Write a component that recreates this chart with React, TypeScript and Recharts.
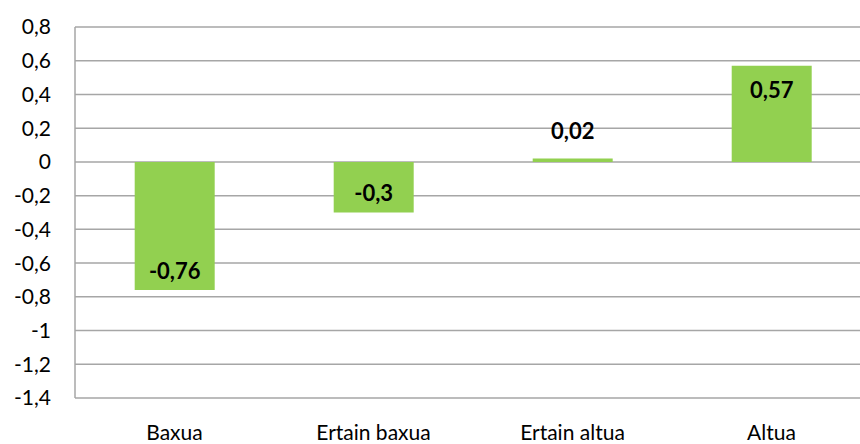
import { BarChart, Bar, XAxis, YAxis, CartesianGrid, LabelList } from 'recharts'

const CATEGORIES = ['Baxua', 'Ertain baxua', 'Ertain altua', 'Altua']
const VALUES = [-0.76, -0.3, 0.02, 0.57]
const Y_TICKS = [-1.4, -1.2, -1, -0.8, -0.6, -0.4, -0.2, 0, 0.2, 0.4, 0.6, 0.8]

const data = CATEGORIES.map((name, i) => ({ name, value: VALUES[i] }))

const fmt = (v: number) => String(Math.round(v * 100) / 100).replace('.', ',')

const FONT = 'Lato, "Open Sans", sans-serif'

// Excel-style "inside end" labels; tiny bars get the label above
const renderLabel = (props: any) => {
  const { x, y, width, height, value } = props
  const cx = x + width / 2
  const h = Math.abs(height)
  let ty: number
  if (h < 30) {
    ty = Math.min(y, y + height) - 25
  } else if (value >= 0) {
    ty = Math.min(y, y + height) + 27
  } else {
    ty = Math.max(y, y + height) - 17
  }
  return (
    <text x={cx} y={ty} textAnchor="middle" dominantBaseline="middle" fontSize={22} fontWeight={700} fontFamily={FONT} fill="#000">
      {fmt(value)}
    </text>
  )
}

export default function App() {
  return (
    <div style={{ position: 'fixed', left: 0, top: 0, width: 860, height: 444, overflow: 'hidden', background: '#fff' }}>
      <BarChart
        width={875}
        height={444}
        data={data}
        margin={{ top: 27, right: 4, bottom: 0, left: 8 }}
        barCategoryGap="30%"
      >
        <CartesianGrid vertical={false} stroke="#A6A6A6" strokeWidth={1.5} />
        <XAxis
          dataKey="name"
          axisLine={false}
          tickLine={false}
          height={46}
          tick={{ fontSize: 21, fill: '#000', fontFamily: FONT, dy: 19 }}
          interval={0}
        />
        <YAxis
          type="number"
          domain={[-1.4, 0.8]}
          ticks={Y_TICKS}
          interval={0}
          width={67}
          tickFormatter={fmt}
          axisLine={{ stroke: '#A6A6A6', strokeWidth: 1.5 }}
          tickLine={false}
          tick={{ fontSize: 21, fill: '#000', fontFamily: FONT, dx: -16 }}
        />
        <Bar dataKey="value" fill="#92D050" isAnimationActive={false}>
          <LabelList dataKey="value" content={renderLabel} />
        </Bar>
      </BarChart>
    </div>
  )
}
